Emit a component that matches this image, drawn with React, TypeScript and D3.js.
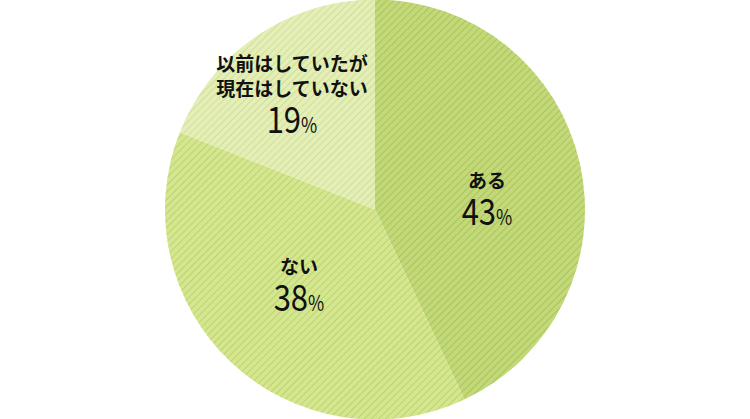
import React from "react";
import * as d3 from "d3";

const categories = ["ある", "ない", "以前はしていたが\n現在はしていない"];
const values = [43, 38, 19];
const fills = ["#c3d979", "#d5e690", "#e4eeb6"];
const lines = ["#a9c45b", "#bcd36c", "#cde09a"];
const labelPos = [
  { x: 487, y: 188 },
  { x: 299, y: 274 },
  { x: 292, y: 71 },
];

export default function App() {
  const W = 750, H = 419;
  const cx = 375, cy = 209.5, r = 210;
  const pie = d3.pie<number>().sort(null).value((d) => d);
  const arcs = pie(values);
  const arcGen = d3.arc<d3.PieArcDatum<number>>().innerRadius(0).outerRadius(r);
  return (
    <svg width={W} height={H} style={{ position: "absolute", left: 0, top: 0 }}>
      <defs>
        {fills.map((f, i) => (
          <pattern key={i} id={`hatch${i}`} width={5} height={5} patternUnits="userSpaceOnUse" patternTransform="rotate(45)">
            <rect width={5} height={5} fill={f} />
            <line x1={0.5} y1={0} x2={0.5} y2={5} stroke={lines[i]} strokeWidth={1} />
          </pattern>
        ))}
      </defs>
      <g transform={`translate(${cx},${cy})`}>
        {arcs.map((a, i) => (
          <path key={i} d={arcGen(a) || ""} fill={`url(#hatch${i})`} />
        ))}
      </g>
      {categories.map((c, i) => {
        const p = labelPos[i];
        const rows = c.split("\n");
        const numY = p.y + (rows.length - 1) * 25 + 37;
        return (
          <g key={i} fontFamily="'Noto Sans CJK JP', 'Noto Sans', sans-serif" textAnchor="middle" fill="#111">
            {rows.map((t, j) => (
              <text key={j} x={p.x} y={p.y + j * 25} fontSize={19} fontWeight={700}>{t}</text>
            ))}
            <g transform={`translate(${p.x},${numY}) scale(0.84,1)`}>
              <text x={0} y={0} fontSize={37} fontWeight={400}>
                <tspan>{values[i]}</tspan>
                <tspan fontSize={21}>%</tspan>
              </text>
            </g>
          </g>
        );
      })}
    </svg>
  );
}
